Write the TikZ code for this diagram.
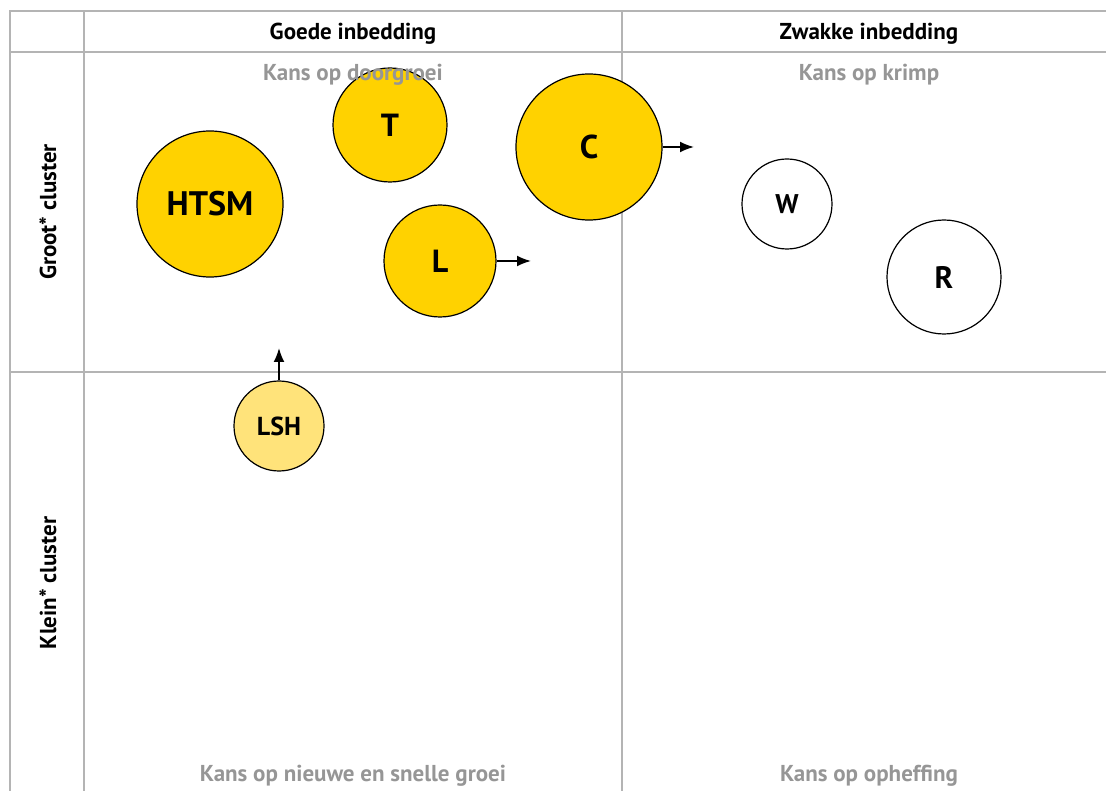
\documentclass[tikz,border=0pt]{standalone}
\usepackage{fontspec}
\setmainfont{PT Sans}
\usepackage{tikz}
\usetikzlibrary{arrows.meta}
\definecolor{geel}{RGB}{255,210,0}
\definecolor{lichtgeel}{RGB}{255,227,122}
\definecolor{lijn}{RGB}{180,180,180}
\definecolor{kans}{RGB}{150,150,150}

\begin{document}
\begin{tikzpicture}[x=1pt,y=-1pt,
    raster/.style={draw=lijn,line width=1.6pt},
    kop/.style={font=\bfseries\fontsize{23}{27}\selectfont},
    kanstekst/.style={text=kans,font=\bfseries\fontsize{23}{27}\selectfont},
    bol/.style={circle,draw=black,line width=1.2pt,fill=geel,inner sep=0pt,font=\bfseries},
    pijl/.style={-{Latex[length=14pt,width=11pt]},line width=1.8pt}]
                \useasboundingbox (0,0) rectangle (1106,791);
                % raster
                \draw[raster] (10,791) -- (10,11) -- (1106,11);
                \draw[raster] (10,52) -- (1106,52);
                \draw[raster] (10,372) -- (1106,372);
                \draw[raster] (84,11) -- (84,791);
                \draw[raster] (622,11) -- (622,791);
                % koppen
                \node[kop] (goed) at (353,34) {Goede inbedding};
                \node[kop] (zwak) at (869,34) {Zwakke inbedding};
                \node[kop,rotate=90] (groot) at (48,212) {Groot* cluster};
                \node[kop,rotate=90] (klein) at (48,583) {Klein* cluster};
                % clusters
                \node[bol,minimum size=114pt,font=\bfseries\fontsize{32}{36}\selectfont] (T) at (390,125) {T};
                \node[bol,minimum size=146pt,font=\bfseries\fontsize{33}{37}\selectfont] (C) at (589,147) {C};
                \node[bol,minimum size=146pt,font=\bfseries\fontsize{34}{38}\selectfont] (HTSM) at (210,204) {HTSM};
                \node[bol,minimum size=112pt,font=\bfseries\fontsize{32}{36}\selectfont] (L) at (440,261) {L};
                \node[bol,fill=white,minimum size=90pt,font=\bfseries\fontsize{27}{31}\selectfont] (W) at (787,204) {W};
                \node[bol,fill=white,minimum size=114pt,font=\bfseries\fontsize{31}{35}\selectfont] (R) at (944,277) {R};
                \node[bol,fill=lichtgeel,minimum size=90pt,font=\bfseries\fontsize{26}{30}\selectfont] (LSH) at (279,426) {LSH};
                % kwadranten
                \node[kanstekst] (doorgroei) at (353,75) {Kans op doorgroei};
                \node[kanstekst] (krimp) at (869,75) {Kans op krimp};
                \node[kanstekst] (nieuw) at (353,776) {Kans op nieuwe en snelle groei};
                \node[kanstekst] (opheffing) at (869,776) {Kans op opheffing};
                % pijlen
                \coordinate (Cnaar) at (694,147);
                \coordinate (Lnaar) at (531,261);
                \coordinate (LSHnaar) at (279,348);
                \draw[pijl] (C) -- (Cnaar);
                \draw[pijl] (L) -- (Lnaar);
                \draw[pijl] (LSH) -- (LSHnaar);
            \end{tikzpicture}
\end{document}
